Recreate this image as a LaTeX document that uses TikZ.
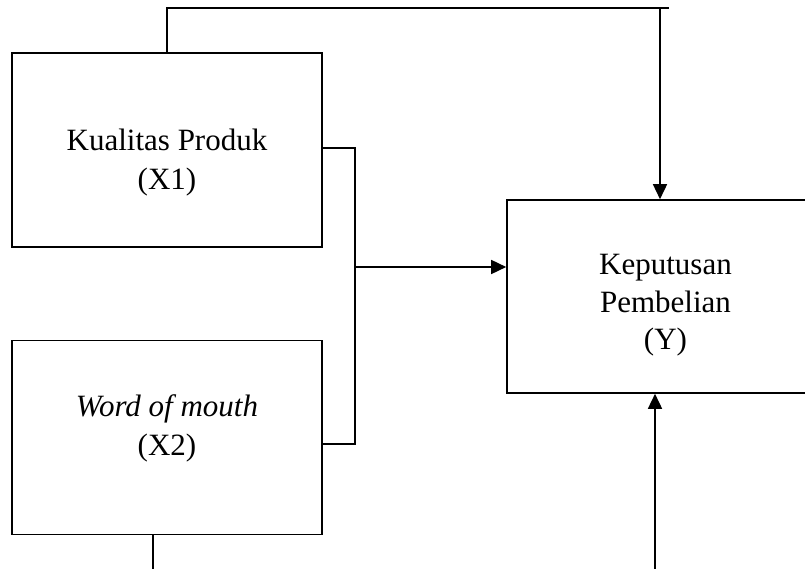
\documentclass[tikz,border=0pt]{standalone}
\usepackage{fontspec}
\setmainfont{Liberation Serif}
\usetikzlibrary{arrows.meta,positioning}

\begin{document}
\begin{tikzpicture}[x=1pt,y=-1pt,line width=1.6pt,
        varbox/.style={draw,minimum width=310pt,minimum height=194pt,inner sep=0pt},
        vartext/.style={align=center,font=\fontsize{31}{39}\selectfont},
        arr/.style={-{Triangle[length=15pt,width=14pt]}}]
        \useasboundingbox (0,0) rectangle (805,569);
        \node [varbox] (x1) at (167,150) {};
        \node [varbox] (x2) at (167,437.5) {};
        \node [varbox,minimum width=317pt,minimum height=193pt] (y) at (665.5,296.5) {};
        \node [vartext] (x1-txt) at (167,163) {Kualitas Produk\\(X1)};
        \node [vartext] (x2-txt) at (167,428.5) {\textit{Word of mouth}\\(X2)};
        \node [vartext,font=\fontsize{31}{37.5}\selectfont] (y-txt) at (665.5,305.5) {Keputusan\\Pembelian\\(Y)};
        \coordinate (top-end) at (669,8);
        \coordinate (top-arr) at (660,8);
        \coordinate (join-a) at (355,148);
        \coordinate (join-b) at (355,444);
        \coordinate (join-mid) at (355,267);
        \coordinate (bot-end) at (153,569);
        \coordinate (bot-arr) at (655,569);
        \draw [black] (x1.north) |- (top-end);
        \draw [black,arr] (top-arr) -- (top-arr |- y.north);
        \draw [black] (x1.east |- join-a) -- (join-a) -- (join-b) -- (x2.east |- join-b);
        \draw [black,arr] (join-mid) -- (join-mid -| y.west);
        \draw [black] (x2.south -| bot-end) -- (bot-end);
        \draw [black,arr] (bot-arr) -- (bot-arr |- y.south);
    \end{tikzpicture}
\end{document}
